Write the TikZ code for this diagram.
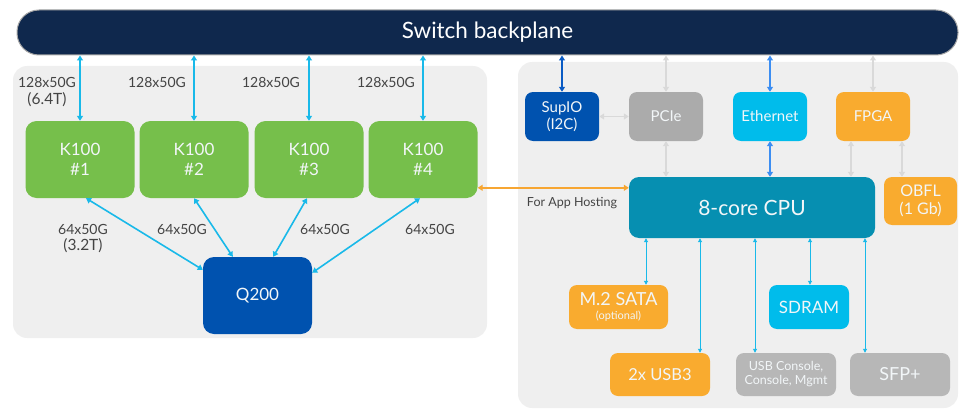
\documentclass[tikz,border=0pt]{standalone}
\usepackage{fontspec}
\setmainfont{Lato}
\usetikzlibrary{arrows.meta,calc}
\definecolor{navy}{HTML}{0F284D}
\definecolor{panel}{HTML}{EFEFEF}
\definecolor{kgreen}{HTML}{76BF4B}
\definecolor{qblue}{HTML}{0052AF}
\definecolor{pgray}{HTML}{ABABAB}
\definecolor{bgray}{HTML}{B7B7B7}
\definecolor{ecyan}{HTML}{00BCEB}
\definecolor{orng}{HTML}{F9AB2F}
\definecolor{cput}{HTML}{068FB1}
\definecolor{acyan}{HTML}{19B9E9}
\definecolor{agray}{HTML}{D9D9D9}
\definecolor{eblue}{HTML}{3C8EF2}
\definecolor{sblue}{HTML}{0A5BC4}
\definecolor{aorng}{HTML}{F7A632}
\definecolor{lbl}{HTML}{444444}
\definecolor{txt}{HTML}{F2F6F8}
\tikzset{
  box/.style={draw=none, rounded corners=8pt, text=txt, align=center, inner sep=0pt, font=\fontsize{15}{17}\selectfont},
  kbox/.style={box, fill=kgreen, minimum width=109pt, minimum height=77pt, rounded corners=11pt, font=\fontsize{17}{20}\selectfont},
  sbox/.style={box, minimum width=74pt, minimum height=49pt},
  bbox/.style={box, minimum width=100pt, minimum height=43pt},
  lab/.style={text=lbl, align=center, inner sep=0pt, font=\fontsize{14}{16}\selectfont},
  tip/.style={{Triangle[width=6pt,length=5pt]}-{Triangle[width=6pt,length=5pt]}},
  tips/.style={{Triangle[width=4pt,length=4pt]}-{Triangle[width=4pt,length=4pt]}},
  cyarr/.style={tip, draw=acyan, line width=1.6pt},
  gyarr/.style={tip, draw=agray, line width=1.6pt},
  thin/.style={tips, draw=acyan, line width=0.9pt},
}
\begin{document}
\begin{tikzpicture}[x=1pt,y=-1pt]
\useasboundingbox (0,0) rectangle (961,412);
% panels
\fill[panel, rounded corners=14pt] (13,66) rectangle (487,338);
\fill[panel, rounded corners=14pt] (518,62) rectangle (958,408);
% backplane
\node[draw=gray!70, line width=1pt, fill=navy, rounded corners=22pt, minimum width=941pt, minimum height=45pt, text=white, font=\fontsize{22.5}{26}\selectfont] (bp) at (487.5,32.5) {Switch backplane};
% K100
\node[kbox] (k1) at (80,159.5) {K100\\\#1};
\node[kbox] (k2) at (194,159.5) {K100\\\#2};
\node[kbox] (k3) at (309,159.5) {K100\\\#3};
\node[kbox] (k4) at (423,159.5) {K100\\\#4};
\node[box, fill=qblue, minimum width=109pt, minimum height=77pt, rounded corners=11pt, font=\fontsize{17}{20}\selectfont] (q) at (257.5,295.5) {Q200};
% top arrows
\foreach \k in {k1,k2,k3,k4}{
  \draw[cyarr] (\k.north) -- (\k.north |- bp.south);
}
\node[lab] (l1) at (47,82) {128x50G};
\node[lab, font=\fontsize{15.5}{18}\selectfont] (l1b) at (47,100) {(6.4T)};
\node[lab] (l2) at (157,82) {128x50G};
\node[lab] (l3) at (271,82) {128x50G};
\node[lab] (l4) at (386,82) {128x50G};
% lower arrows
\draw[cyarr] ($(k1.south)+(6,0)$) -- ($(q.north west)+(0,13)$);
\draw[cyarr] ($(k2.south)+(0,0)$) -- ($(q.north west)+(30,0)$);
\draw[cyarr] ($(k3.south)+(-2,0)$) -- ($(q.north east)+(-39,0)$);
\draw[cyarr] ($(k4.south)+(-3,0)$) -- ($(q.north east)+(0,16)$);
\node[lab] (m1) at (83,229) {64x50G};
\node[lab, font=\fontsize{15.5}{18}\selectfont] (m1b) at (83,246) {(3.2T)};
\node[lab] (m2) at (182,229) {64x50G};
\node[lab] (m3) at (325,229) {64x50G};
\node[lab] (m4) at (430,229) {64x50G};
% right side
\node[sbox, fill=qblue] (sup) at (562,116.5) {SupIO\\(I2C)};
\node[sbox, fill=pgray] (pcie) at (666,116.5) {PCIe};
\node[sbox, fill=ecyan] (eth) at (770,116.5) {Ethernet};
\node[sbox, fill=orng] (fpga) at (873,116.5) {FPGA};
\node[box, fill=cput, minimum width=246pt, minimum height=61pt, rounded corners=10pt, font=\fontsize{21}{24}\selectfont] (cpu) at (752,207.5) {8-core CPU};
\node[box, fill=orng, minimum width=73pt, minimum height=48pt, font=\fontsize{16}{18}\selectfont] (obfl) at (920.5,201) {OBFL\\(1 Gb)};
\draw[tip, draw=sblue, line width=1.6pt] (sup.north) -- (sup.north |- bp.south);
\draw[gyarr] (pcie.north) -- (pcie.north |- bp.south);
\draw[tip, draw=eblue, line width=1.6pt] (eth.north) -- (eth.north |- bp.south);
\draw[gyarr] (fpga.north) -- (fpga.north |- bp.south);
\draw[gyarr] (sup.east) -- (pcie.west);
\draw[gyarr] (pcie.south) -- (pcie.south |- cpu.north);
\draw[tip, draw=eblue, line width=1.6pt] (eth.south) -- (eth.south |- cpu.north);
\coordinate (fc) at ($(fpga.south)+(-22,0)$);
\draw[gyarr] (fc) -- (fc |- cpu.north);
\coordinate (fo) at ($(fpga.south)+(29,0)$);
\draw[gyarr] (fo) -- (fo |- obfl.north);
% app hosting
\coordinate (app) at ($(cpu.north west)+(0,11)$);
\draw[tip, draw=aorng, line width=1.6pt] (app -| k4.east) -- (app);
\node[lab, font=\fontsize{12.5}{15}\selectfont] (ah) at (572,203) {For App Hosting};
% bottom boxes
\node[box, fill=orng, minimum width=99pt, minimum height=44pt, font=\fontsize{18}{17}\selectfont] (m2s) at (618.5,307) {M.2 SATA\\[-3pt]{\fontsize{11}{13}\selectfont (optional)}};
\node[box, fill=ecyan, minimum width=80pt, minimum height=44pt, font=\fontsize{17}{20}\selectfont] (sd) at (809,307) {SDRAM};
\node[bbox, fill=orng, font=\fontsize{16.5}{19}\selectfont] (usb) at (660,374.5) {2x USB3};
\node[bbox, fill=bgray, font=\fontsize{12.5}{14}\selectfont] (con) at (786,374.5) {USB Console,\\Console, Mgmt};
\node[bbox, fill=bgray, font=\fontsize{18}{20}\selectfont] (sfp) at (900,374.5) {SFP+};
\coordinate (b1) at (646,0);
\coordinate (b2) at (700,0);
\coordinate (b3) at (755,0);
\coordinate (b4) at (810,0);
\coordinate (b5) at (865,0);
\draw[thin] (b1 |- cpu.south) -- (b1 |- m2s.north);
\draw[thin] (b2 |- cpu.south) -- (b2 |- usb.north);
\draw[thin] (b3 |- cpu.south) -- (b3 |- con.north);
\draw[thin] (b4 |- cpu.south) -- (b4 |- sd.north);
\draw[thin] (b5 |- cpu.south) -- (b5 |- sfp.north);
\end{tikzpicture}
\end{document}
